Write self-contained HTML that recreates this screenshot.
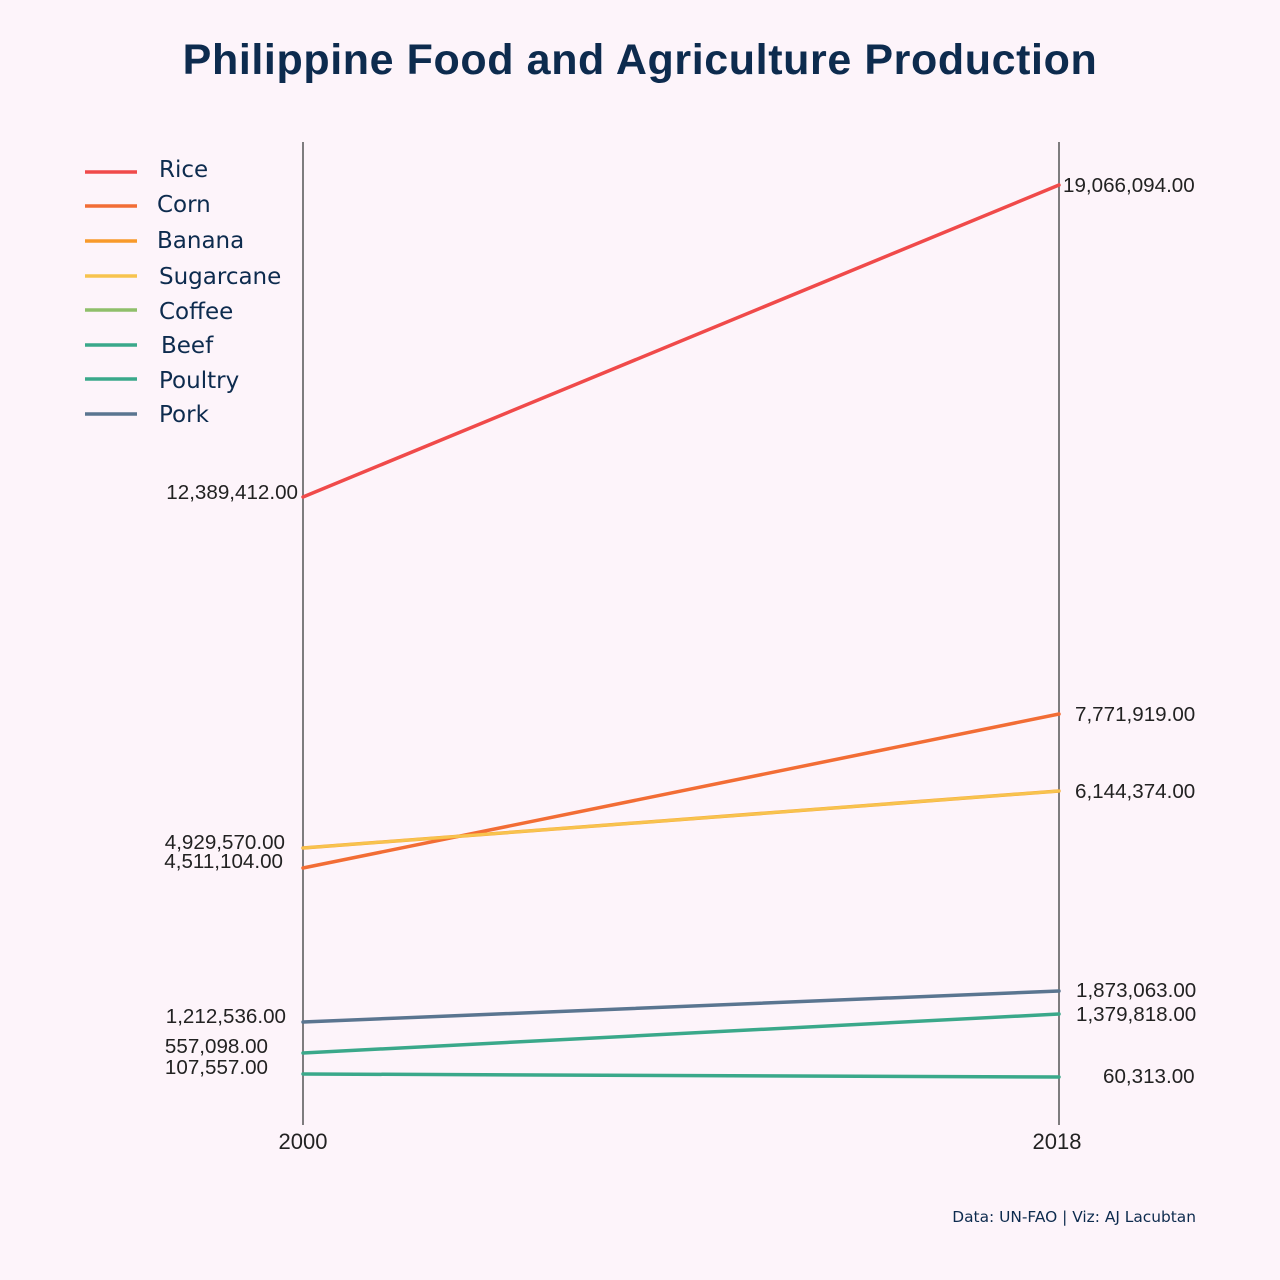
<!DOCTYPE html>
<html><head><meta charset="utf-8"><style>
html,body{margin:0;padding:0;background:#fdf4fa;}
svg{display:block;}
</style></head><body>
<svg width="1280" height="1280" viewBox="0 0 1280 1280" xmlns="http://www.w3.org/2000/svg">
<rect width="1280" height="1280" fill="#fdf4fa"/>
<text x="640" y="74" text-anchor="middle" font-family="Liberation Sans, sans-serif" font-weight="bold" font-size="43" letter-spacing="0.6" fill="#0d2b4e">Philippine Food and Agriculture Production</text>
<g stroke="#555" stroke-width="1.5">
<line x1="303" y1="142" x2="303" y2="1125"/>
<line x1="1059" y1="142" x2="1059" y2="1125"/>
</g>
<g stroke-width="3.5" fill="none" stroke-linecap="round">
<line x1="303" y1="497" x2="1059" y2="185" stroke="#f04a4a"/>
<line x1="303" y1="868" x2="1059" y2="714" stroke="#f26d35"/>
<line x1="303" y1="848" x2="1059" y2="791" stroke="#f89a2a"/>
<line x1="303" y1="848" x2="1059" y2="791" stroke="#f7c34e" stroke-width="3"/>
<line x1="303" y1="1022" x2="1059" y2="991" stroke="#5a7590"/>
<line x1="303" y1="1053" x2="1059" y2="1014" stroke="#3aa88a"/>
<line x1="303" y1="1074" x2="1059" y2="1077" stroke="#3aa88a"/>
</g>
<g font-family="Liberation Sans, sans-serif" font-size="20.6" fill="#222">
<g text-anchor="end">
<text x="298" y="499">12,389,412.00</text>
<text x="285" y="849">4,929,570.00</text>
<text x="283" y="868">4,511,104.00</text>
<text x="286" y="1023">1,212,536.00</text>
<text x="268" y="1053">557,098.00</text>
<text x="268" y="1074">107,557.00</text>
</g>
<text x="1063" y="192">19,066,094.00</text>
<text x="1075" y="721">7,771,919.00</text>
<text x="1075" y="798">6,144,374.00</text>
<text x="1076" y="997">1,873,063.00</text>
<text x="1076" y="1021">1,379,818.00</text>
<text x="1103" y="1083">60,313.00</text>
<text x="303" y="1149" text-anchor="middle" font-size="22">2000</text>
<text x="1057" y="1149" text-anchor="middle" font-size="22">2018</text>
</g>
<g stroke-width="3.5">
<line x1="85" y1="172" x2="137" y2="172" stroke="#f04a4a"/>
<line x1="85" y1="206" x2="137" y2="206" stroke="#f26d35"/>
<line x1="85" y1="241" x2="137" y2="241" stroke="#f89a2a"/>
<line x1="85" y1="276" x2="137" y2="276" stroke="#f7c34e"/>
<line x1="85" y1="310" x2="137" y2="310" stroke="#8fbf6a"/>
<line x1="85" y1="345" x2="137" y2="345" stroke="#3aa88a"/>
<line x1="85" y1="379" x2="137" y2="379" stroke="#3aa88a"/>
<line x1="85" y1="414" x2="137" y2="414" stroke="#5a7590"/>
</g>
<g font-family="DejaVu Sans, sans-serif" font-size="23" fill="#0d2b4e">
<text x="159" y="177">Rice</text>
<text x="157" y="212">Corn</text>
<text x="157" y="248">Banana</text>
<text x="159" y="284">Sugarcane</text>
<text x="159" y="319">Coffee</text>
<text x="161" y="353">Beef</text>
<text x="159" y="388">Poultry</text>
<text x="159" y="422">Pork</text>
</g>
<text x="1196" y="1222" text-anchor="end" font-family="DejaVu Sans, sans-serif" font-size="15.4" fill="#0d2b4e">Data: UN-FAO |  Viz: AJ Lacubtan</text>
</svg>
</body></html>
